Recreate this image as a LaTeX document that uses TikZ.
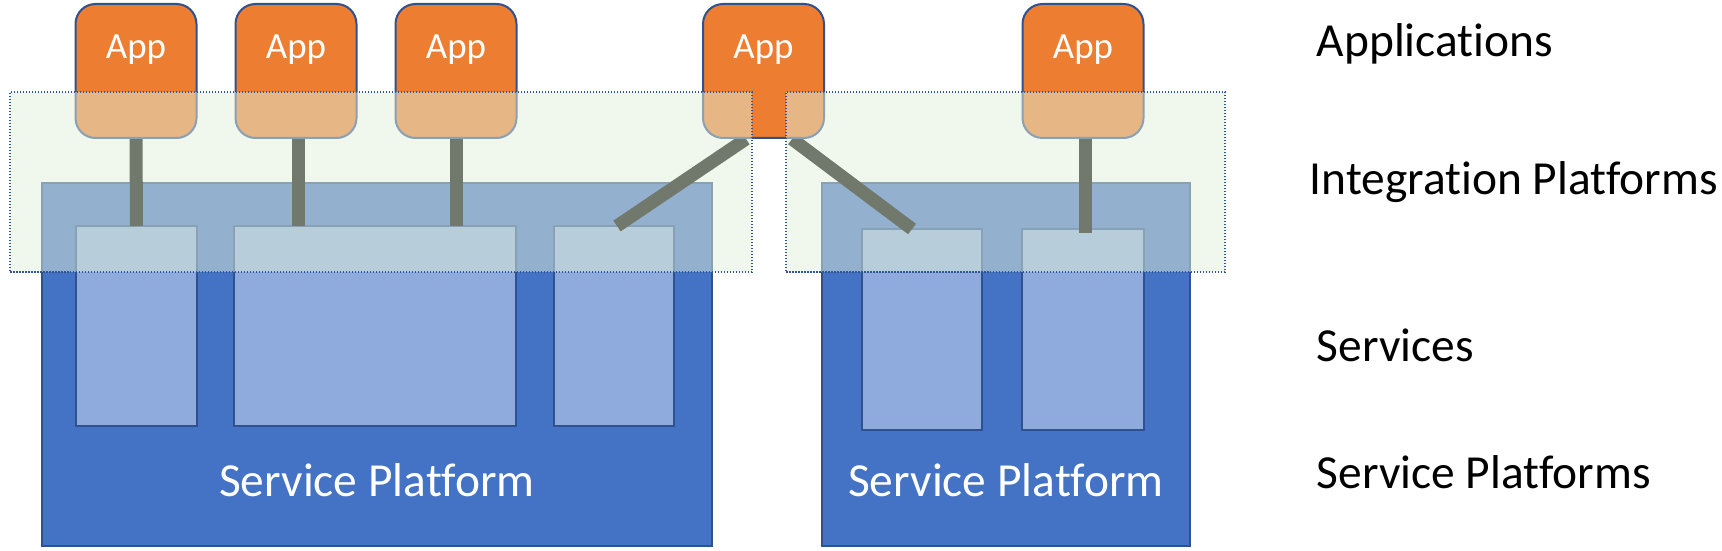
\documentclass[tikz,border=0pt]{standalone}
\usepackage{fontspec}
\setmainfont{Carlito}[Ligatures=NoCommon]
\usepackage{tikz}
\definecolor{platblue}{HTML}{4472C4}
\definecolor{servblue}{HTML}{8FAADC}
\definecolor{apporange}{HTML}{ED7D31}
\definecolor{edgeblue}{HTML}{2F528F}
\definecolor{integgreen}{HTML}{E2F0D9}
\definecolor{dotblue}{HTML}{2F5597}

\begin{document}
\begin{tikzpicture}[x=0.1mm,y=-0.1mm,
		box/.style={rectangle,inner sep=0pt,outer sep=0pt,line width=0.2mm},
		platform/.style={box,fill=platblue,draw=edgeblue,minimum height=36.3mm},
		service/.style={box,fill=servblue,draw=edgeblue,minimum height=20mm},
		app/.style={box,fill=apporange,draw=edgeblue,rounded corners=2mm,minimum width=12.1mm,minimum height=13.4mm},
		integ/.style={box,fill=integgreen,fill opacity=0.5,draw=dotblue,line width=0.15mm,dash pattern=on 0.15mm off 0.15mm,minimum height=18mm},
		link/.style={line width=1.3mm,black},
		bigtext/.style={font=\fontsize{13.5pt}{16pt}\selectfont,inner sep=0pt},
		apptext/.style={font=\fontsize{10.5pt}{12pt}\selectfont,text=white,inner sep=0pt}]
		\useasboundingbox (0,0) rectangle (1722,551);
		\node[platform,minimum width=67mm] (sp1) at (377,364.5) {};
		\node[platform,minimum width=36.8mm] (sp2) at (1006,364.5) {};
		\node[service,minimum width=12.1mm] (s1) at (136.5,326) {};
		\node[service,minimum width=28.2mm] (s2) at (375,326) {};
		\node[service,minimum width=12mm] (s3) at (614,326) {};
		\node[service,minimum width=12mm,minimum height=20.1mm] (s4) at (922,329.5) {};
		\node[service,minimum width=12.2mm,minimum height=20.1mm] (s5) at (1083,329.5) {};
		\draw[link] (136,138) -- (s1.north);
		\draw[link] (298,138) -- (298,226);
		\draw[link] (456,138) -- (456,226);
		\draw[link] (746,139) -- ([xshift=0.3mm]s3.north);
		\draw[link] (792,139) -- ([xshift=-1mm]s4.north);
		\draw[link] (1085,138) -- (1085,233);
		\foreach \n/\x in {a1/136,a2/296,a3/456,a4/763.5,a5/1083}{
			\node[app] (\n) at (\x,71) {};
			\node[apptext,anchor=base] (\n-t) at (\x,59) {App};
		}
		\node[integ,minimum width=74.2mm] (ip1) at (381,182) {};
		\node[integ,minimum width=43.9mm] (ip2) at (1005.5,182) {};
		\node[bigtext,text=white,anchor=base] (sp1-t) at (377,496) {Service Platform};
		\node[bigtext,text=white,anchor=base] (sp2-t) at (1006,496) {Service Platform};
		\node[bigtext,anchor=base west] (l1) at (1316,57) {Applications};
		\node[bigtext,anchor=base west] (l2) at (1309,195) {Integration Platforms};
		\node[bigtext,anchor=base west] (l3) at (1316,361) {Services};
		\node[bigtext,anchor=base west] (l4) at (1316,488) {Service Platforms};
	\end{tikzpicture}
\end{document}
